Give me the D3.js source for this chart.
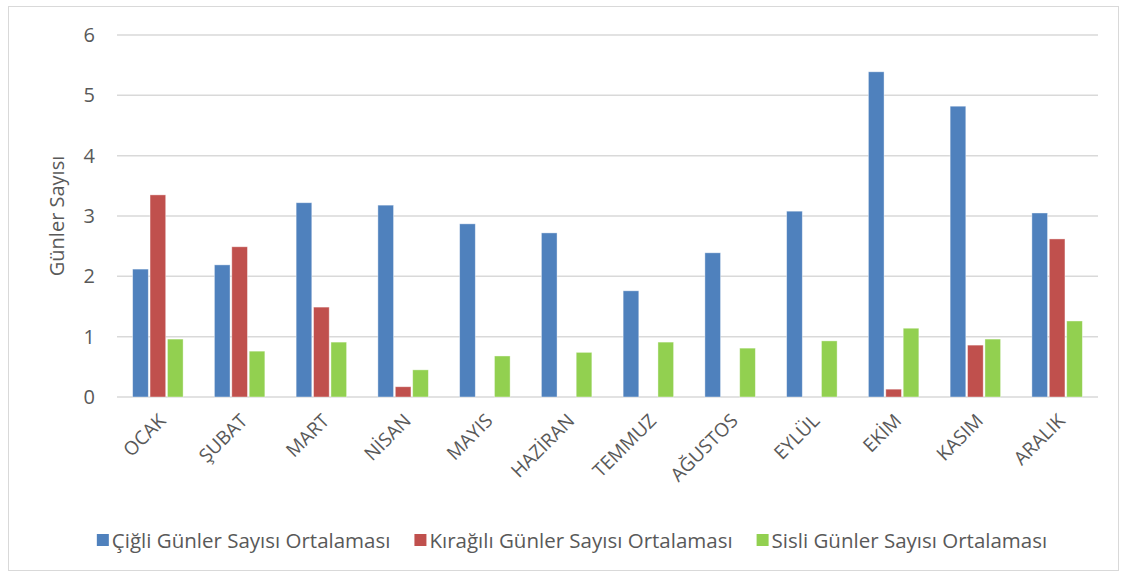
<!DOCTYPE html>
<html lang="tr">
<head>
<meta charset="utf-8">
<title>Günler Sayısı</title>
<script src="https://d3js.org/d3.v7.min.js"></script>
<style>
body { margin: 0; background: #fff; }
text { font-family: "Open Sans", "Liberation Sans", sans-serif; fill: #595959; }
.grid line { stroke: #d9d9d9; stroke-width: 1.5; }
</style>
</head>
<body>
<svg id="chart" width="1124" height="575"></svg>
<script>
var months = ["OCAK", "ŞUBAT", "MART", "NİSAN", "MAYIS", "HAZİRAN", "TEMMUZ", "AĞUSTOS", "EYLÜL", "EKİM", "KASIM", "ARALIK"];
var cigli = [2.12, 2.19, 3.22, 3.18, 2.87, 2.72, 1.76, 2.39, 3.08, 5.39, 4.82, 3.05];
var kiragili = [3.35, 2.49, 1.49, 0.17, 0, 0, 0, 0, 0, 0.13, 0.86, 2.62];
var sisli = [0.96, 0.76, 0.91, 0.45, 0.68, 0.74, 0.91, 0.81, 0.93, 1.14, 0.96, 1.26];
var seriesNames = ["Çiğli Günler Sayısı Ortalaması", "Kırağılı Günler Sayısı Ortalaması", "Sisli Günler Sayısı Ortalaması"];
var colors = ["#4f81bd", "#c0504d", "#92d050"];
var yTicks = [0, 1, 2, 3, 4, 5, 6];

var svg = d3.select('#chart');

svg.append('rect')
  .attr('x', 8.5).attr('y', 6.5)
  .attr('width', 1110).attr('height', 564)
  .attr('fill', '#fff').attr('stroke', '#d9d9d9');

var plotLeft = 117, plotRight = 1098, plotTop = 35, plotBottom = 397;

var x = d3.scaleBand().domain(months).range([plotLeft, plotRight]).paddingInner(0.34).paddingOuter(0.17);
var sub = d3.scaleBand().domain([0, 1, 2]).range([0, x.bandwidth()]).padding(0.1);
var y = d3.scaleLinear().domain([0, 6]).range([plotBottom, plotTop]);

svg.append('g').attr('class', 'grid')
  .selectAll('line').data(yTicks).enter().append('line')
  .attr('x1', plotLeft).attr('x2', plotRight)
  .attr('y1', function(d) { return y(d); })
  .attr('y2', function(d) { return y(d); });

var yAxis = svg.append('g')
  .attr('transform', 'translate(' + plotLeft + ',0)')
  .call(d3.axisLeft(y).tickValues(yTicks).tickFormat(d3.format('d')).tickSize(0).tickPadding(22));
yAxis.select('.domain').remove();
yAxis.selectAll('text').attr('font-size', 20).style('fill', '#595959')
  .style('font-family', '"Open Sans", "Liberation Sans", sans-serif');

svg.append('text')
  .attr('transform', 'translate(64,' + (plotTop + plotBottom) / 2 + ') rotate(-90)')
  .attr('text-anchor', 'middle')
  .attr('font-size', 20)
  .text('Günler Sayısı');

var series = [cigli, kiragili, sisli];
series.forEach(function(vals, si) {
  var pts = vals.map(function(v, i) { return { month: months[i], value: v }; })
    .filter(function(d) { return d.value > 0; });
  svg.append('g').selectAll('rect')
    .data(pts).enter().append('rect')
    .attr('x', function(d) { return x(d.month) + sub(si); })
    .attr('y', function(d) { return y(d.value); })
    .attr('width', sub.bandwidth())
    .attr('height', function(d) { return y(0) - y(d.value); })
    .attr('fill', colors[si])
    .attr('stroke', '#fff').attr('stroke-opacity', 0.5).attr('stroke-width', 0.8);
});

var xAxis = svg.append('g')
  .attr('transform', 'translate(0,' + plotBottom + ')')
  .call(d3.axisBottom(x).tickSize(0).tickPadding(0));
xAxis.select('.domain').remove();
xAxis.selectAll('text')
  .attr('font-size', 19)
  .style('fill', '#595959')
  .style('font-family', '"Open Sans", "Liberation Sans", sans-serif')
  .attr('text-anchor', 'end')
  .attr('dy', 0)
  .attr('transform', 'translate(9,25) rotate(-45)');

// legend
var legend = svg.append('g');
var lx = 0;
seriesNames.forEach(function(name, i) {
  var g = legend.append('g').attr('transform', 'translate(' + lx + ',0)');
  g.append('rect').attr('x', 0).attr('y', -14).attr('width', 12).attr('height', 12).attr('fill', colors[i]);
  var t = g.append('text').attr('x', 15).attr('y', 0).attr('font-size', 20.5).text(name);
  lx += 15 + t.node().getComputedTextLength() + 24;
});
lx -= 24;
legend.attr('transform', 'translate(' + (572 - lx / 2) + ',548)');
</script>
</body>
</html>
